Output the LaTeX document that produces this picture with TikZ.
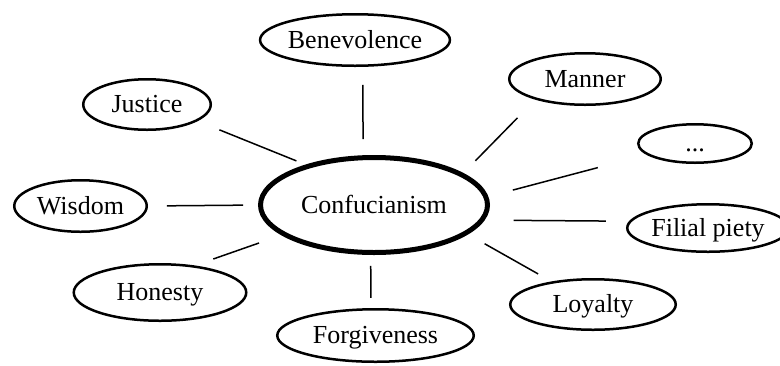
\documentclass[tikz,border=0pt]{standalone}
\usepackage{fontspec}
\setmainfont{Liberation Serif}
\usetikzlibrary{shapes.geometric}
\begin{document}
\begin{tikzpicture}[x=0.5pt, y=-0.5pt]
	\tikzstyle{Virtue} = [ellipse, draw=black, line width=1.25pt, inner sep=0pt, outer sep=0pt, text height=10.5pt, text depth=2.5pt, font=\fontsize{13}{15}\selectfont]
	\tikzstyle{Core} = [Virtue, line width=2.5pt]
	\tikzstyle{Link} = [line width=0.75pt, black]
	
	\useasboundingbox (0,0) rectangle (780,365);
	
	\node (conf) [Core, minimum width=113.5pt, minimum height=47.5pt] at (374,205) {Confucianism};
	
	\node (bene) [Virtue, minimum width=93.75pt, minimum height=25.75pt] at (355,40) {Benevolence};
	\node (justice) [Virtue, minimum width=63.75pt, minimum height=25.25pt] at (147,104.5) {Justice};
	\node (manner) [Virtue, minimum width=75.75pt, minimum height=25.75pt] at (585,79) {Manner};
	\node (dots) [Virtue, minimum width=56.75pt, minimum height=19.25pt] at (695,143.5) {...};
	\node (wisdom) [Virtue, minimum width=66.25pt, minimum height=25.75pt] at (80.5,206) {Wisdom};
	\node (filial) [Virtue, minimum width=80.75pt, minimum height=23.75pt] at (708,228) {Filial piety};
	\node (honesty) [Virtue, minimum width=86.25pt, minimum height=28.25pt] at (160,292.5) {Honesty};
	\node (forgive) [Virtue, minimum width=98.25pt, minimum height=26.25pt] at (375.5,335.5) {Forgiveness};
	\node (loyalty) [Virtue, minimum width=82.75pt, minimum height=25.25pt] at (593,304.5) {Loyalty};
	
	\draw [Link, shorten <=9.65pt, shorten >=9.35pt] (bene.287) -- (conf.103);
	\draw [Link, shorten <=12.45pt, shorten >=6.85pt] (justice.342) -- (conf.149);
	\draw [Link, shorten <=13.4pt, shorten >=9.85pt] (manner.202) -- (conf.19);
	\draw [Link, shorten <=26pt, shorten >=13.9pt] (dots.193) -- (conf.4);
	\draw [Link, shorten <=10.1pt, shorten >=8.75pt] (wisdom.0) -- (conf.180);
	\draw [Link, shorten <=12.4pt, shorten >=16pt] (filial.175) -- (conf.352);
	\draw [Link, shorten <=11.1pt, shorten >=13.4pt] (honesty.39) -- (conf.198);
	\draw [Link, shorten <=5.65pt, shorten >=6.75pt] (forgive.100) -- (conf.266);
	\draw [Link, shorten <=8.6pt, shorten >=10.9pt] (loyalty.151) -- (conf.343);
\end{tikzpicture}
\end{document}
